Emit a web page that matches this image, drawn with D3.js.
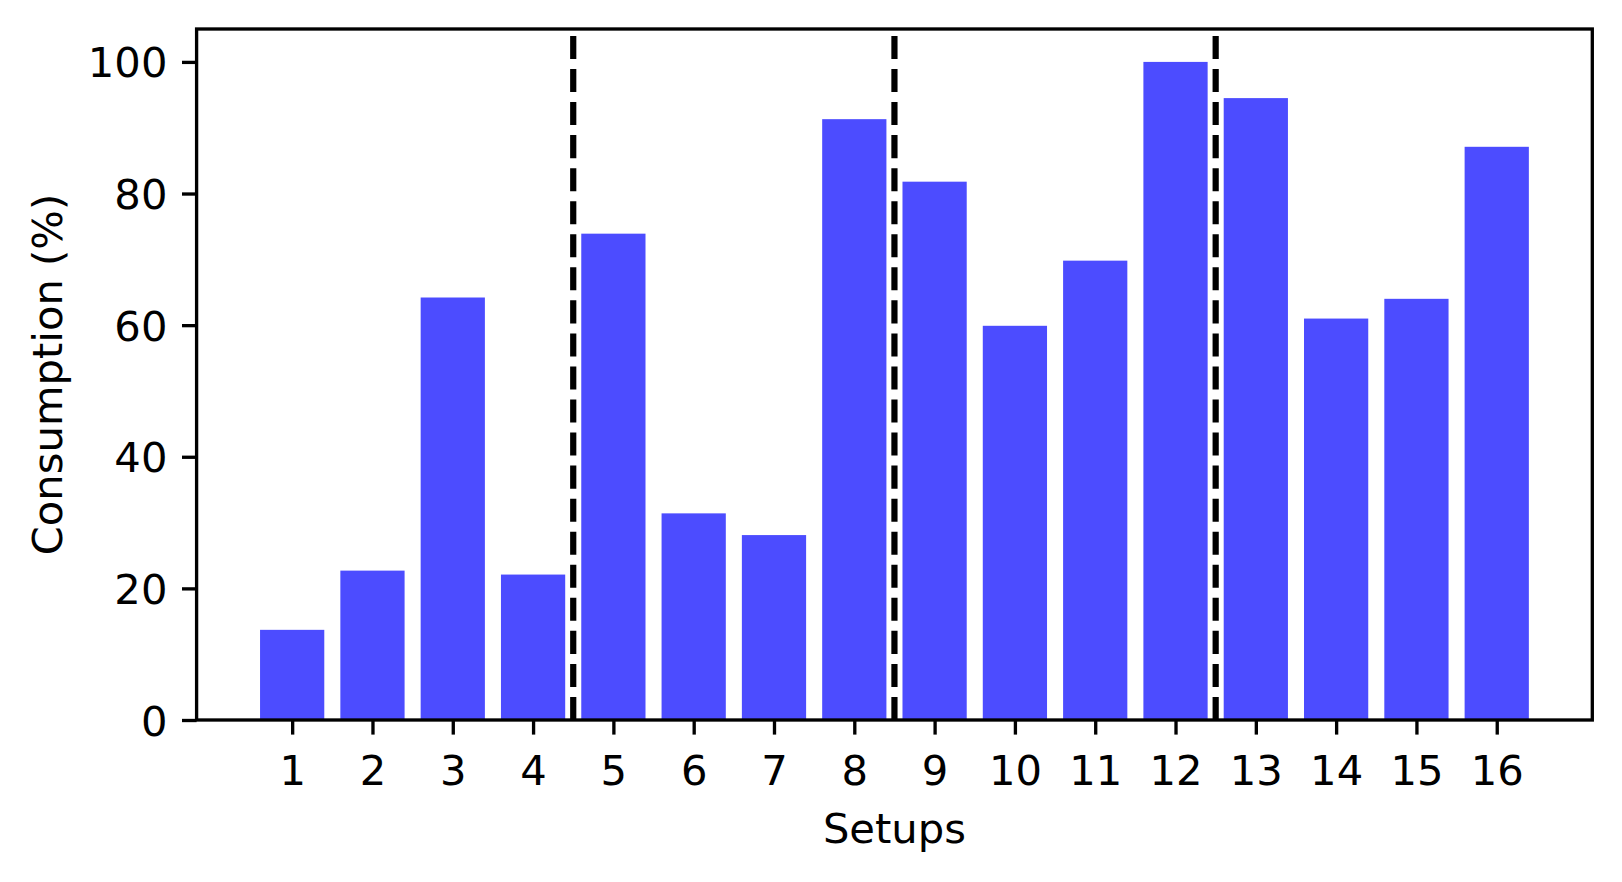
<!DOCTYPE html>
<html>
<head>
<meta charset="utf-8">
<script src="https://cdn.jsdelivr.net/npm/d3@7"></script>
<style>
  html, body { margin: 0; padding: 0; background: #fff; }
  svg { display: block; }
  text { font-family: "DejaVu Sans", sans-serif; fill: #000; }
</style>
</head>
<body>
<svg id="chart" width="1622" height="882"></svg>
<script>
const setups = [1, 2, 3, 4, 5, 6, 7, 8, 9, 10, 11, 12, 13, 14, 15, 16];
const consumption = [13.7, 22.7, 64.2, 22.1, 73.9, 31.4, 28.1, 91.3, 81.8, 59.9, 69.8, 100.0, 94.5, 61.0, 64.0, 87.1];
const separators = [4.5, 8.5, 12.5];
const yTicks = [0, 20, 40, 60, 80, 100];
const xLabel = "Setups";
const yLabel = "Consumption (%)";

(function () {
const pLeft = 196.6, pRight = 1592.3, pTop = 29, pBottom = 720;
const svg = d3.select("#chart");

const x = d3.scaleLinear().domain([-0.19, 17.19]).range([pLeft, pRight]);
const y = d3.scaleLinear().domain([0, 105]).range([pBottom, pTop]);
const barW = 0.8;

// bars
svg.append("g").selectAll("rect").data(setups).join("rect")
  .attr("x", (d) => x(d - barW / 2))
  .attr("width", (d) => x(d + barW / 2) - x(d - barW / 2))
  .attr("y", (d, i) => y(consumption[i]))
  .attr("height", (d, i) => y(0) - y(consumption[i]))
  .attr("fill", "#0000ff")
  .attr("fill-opacity", 0.7);

// dashed separators (drawn from bottom upward)
svg.append("g").selectAll("line").data(separators).join("line")
  .attr("x1", (d) => x(d)).attr("x2", (d) => x(d))
  .attr("y1", y(0)).attr("y2", y(105))
  .attr("stroke", "#000")
  .attr("stroke-width", 6.2)
  .attr("stroke-dasharray", "23.07 9.98");

const tickLen = 14.6, pad = 14.6, fs = 41.7;

// x axis
const xAxis = d3.axisBottom(x).tickValues(setups).tickSize(tickLen).tickPadding(pad).tickFormat(d3.format("d"));
const gx = svg.append("g").attr("transform", `translate(0,${pBottom})`).call(xAxis);
gx.select(".domain").remove();
gx.selectAll(".tick line").attr("stroke", "#000").attr("stroke-width", 3.33);
gx.selectAll(".tick text")
  .attr("dy", null).attr("y", 65)
  .style("font-size", fs + "px").style("font-family", "DejaVu Sans");

// y axis
const yAxis = d3.axisLeft(y).tickValues(yTicks).tickSize(tickLen).tickPadding(pad);
const gy = svg.append("g").attr("transform", `translate(${pLeft},0)`).call(yAxis);
gy.select(".domain").remove();
gy.selectAll(".tick line").attr("stroke", "#000").attr("stroke-width", 3.33);
gy.selectAll(".tick text")
  .attr("dy", null).attr("y", 15)
  .style("font-size", fs + "px").style("font-family", "DejaVu Sans");

// spines
svg.append("rect")
  .attr("x", pLeft).attr("y", pTop)
  .attr("width", pRight - pLeft).attr("height", pBottom - pTop)
  .attr("fill", "none").attr("stroke", "#000").attr("stroke-width", 3.33);

// axis labels
svg.append("text")
  .attr("x", (pLeft + pRight) / 2).attr("y", 843)
  .attr("text-anchor", "middle")
  .style("font-size", fs + "px")
  .text(xLabel);

svg.append("text")
  .attr("transform", `translate(62,${(pTop + pBottom) / 2}) rotate(-90)`)
  .attr("text-anchor", "middle")
  .style("font-size", fs + "px")
  .text(yLabel);
})();
</script>
</body>
</html>
